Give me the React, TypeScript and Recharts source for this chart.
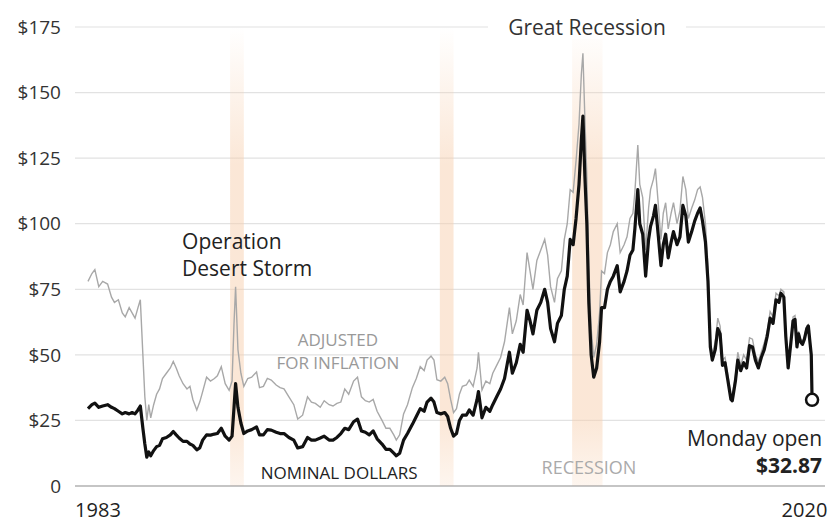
import React from "react";
import {
  LineChart,
  Line,
  XAxis,
  YAxis,
  CartesianGrid,
  ReferenceArea,
  ReferenceDot,
} from "recharts";

// decimal years, one line per calendar year
const dates = [
  1983.25, 1983.45, 1983.6, 1983.8,
  1984.0, 1984.25, 1984.45, 1984.6, 1984.8,
  1985.0, 1985.15, 1985.35, 1985.5, 1985.65, 1985.8, 1985.92,
  1986.05, 1986.15, 1986.25, 1986.35, 1986.45, 1986.6, 1986.75, 1986.9,
  1987.05, 1987.25, 1987.45, 1987.6, 1987.75, 1987.9,
  1988.1, 1988.3, 1988.45, 1988.6, 1988.8, 1988.95,
  1989.1, 1989.3, 1989.5, 1989.7, 1989.85,
  1990.05, 1990.25, 1990.45, 1990.6, 1990.7, 1990.78, 1990.9,
  1991.05, 1991.2, 1991.4, 1991.6, 1991.85,
  1992.0, 1992.2, 1992.4, 1992.6, 1992.85,
  1993.05, 1993.25, 1993.5, 1993.75, 1993.95,
  1994.2, 1994.45, 1994.65, 1994.85,
  1995.1, 1995.3, 1995.55, 1995.75, 1995.95,
  1996.15, 1996.35, 1996.55, 1996.8,
  1997.0, 1997.2, 1997.4, 1997.6, 1997.8,
  1998.0, 1998.25, 1998.45, 1998.65, 1998.85, 1998.98,
  1999.15, 1999.35, 1999.55, 1999.8,
  2000.0, 2000.2, 2000.4, 2000.55, 2000.75, 2000.9,
  2001.05, 2001.25, 2001.45, 2001.6, 2001.75, 2001.9,
  2002.05, 2002.2, 2002.35, 2002.55, 2002.7, 2002.9,
  2003.1, 2003.17, 2003.35, 2003.55, 2003.75, 2003.9,
  2004.1, 2004.3, 2004.5, 2004.75, 2004.9,
  2005.1, 2005.3, 2005.45, 2005.65, 2005.8, 2005.95,
  2006.15, 2006.35, 2006.55, 2006.7, 2006.85,
  2007.05, 2007.2, 2007.4, 2007.55, 2007.7, 2007.85,
  2008.0, 2008.15, 2008.3, 2008.42, 2008.5, 2008.6, 2008.7, 2008.8, 2008.92,
  2009.05, 2009.2, 2009.35, 2009.45, 2009.6, 2009.75, 2009.9,
  2010.05, 2010.25, 2010.4, 2010.6, 2010.75, 2010.9,
  2011.05, 2011.15, 2011.3, 2011.4, 2011.55, 2011.7, 2011.85, 2011.95,
  2012.1, 2012.2, 2012.35, 2012.48, 2012.6, 2012.72, 2012.85,
  2013.0, 2013.12, 2013.3, 2013.45, 2013.6, 2013.75, 2013.88,
  2014.05, 2014.2, 2014.35, 2014.48, 2014.6, 2014.75, 2014.88,
  2015.0, 2015.1, 2015.25, 2015.38, 2015.5, 2015.62, 2015.75, 2015.9,
  2016.05, 2016.12, 2016.28, 2016.4, 2016.55, 2016.7, 2016.85,
  2017.0, 2017.15, 2017.3, 2017.45, 2017.6, 2017.75, 2017.9,
  2018.05, 2018.2, 2018.35, 2018.5, 2018.6, 2018.75, 2018.85, 2018.97,
  2019.1, 2019.22, 2019.32, 2019.42, 2019.5, 2019.6, 2019.7, 2019.8, 2019.92,
  2020.0, 2020.08, 2020.15, 2020.19,
];

const nominal = [
  29.5, 31, 31.6, 30,
  30.5, 31, 30, 29.5, 28.5,
  27.5, 28, 27.5, 28, 27.5, 29, 30.5,
  22, 16, 11, 13, 11.5, 13.5, 15, 15.5,
  18, 18.5, 19.5, 20.8, 19.5, 18.3,
  17, 17, 16, 15.5, 13.8, 14.5,
  17.5, 19.5, 19.4, 19.8, 20,
  22, 19, 17.5, 19, 30, 39, 30,
  24, 20, 21, 21.5, 22.5,
  19.5, 19.5, 21.5, 21.3, 20.5,
  20, 20, 18.5, 17.5, 14.5,
  15, 18.5, 17.5, 17.5,
  18.3, 19, 17.5, 17.5, 18.5,
  20, 22, 21.5, 24.5,
  25.5, 21, 20.5, 19.5, 21,
  18, 16, 14, 14, 12.5, 11.5,
  12.5, 17.5, 20, 23.5,
  26.5, 29.5, 28.5, 32, 33.5, 32,
  28, 27.5, 28, 26.5, 22, 19,
  20, 25, 27, 27, 29, 27,
  33, 36, 26, 30, 28.5, 31,
  34, 37, 41, 51, 43,
  47, 54, 51, 67, 63, 58,
  67, 70, 75, 70, 60,
  55, 62, 65, 75, 80, 94,
  92, 102, 115, 132, 141, 118, 100, 70, 50,
  41.5, 45, 55, 68, 68, 75, 78,
  80, 84, 74, 78, 82, 88,
  90, 98, 113, 100, 96, 80, 94, 99,
  103, 107, 95, 84, 92, 96, 87,
  93, 97, 92, 95, 107, 103, 93,
  97, 101, 104, 106, 101, 93, 78,
  53, 48, 52, 60, 58, 46, 47, 40,
  33, 32.5, 40, 48, 44, 47, 45,
  53.5, 53, 48, 45, 49, 52, 57,
  64, 62, 71, 70, 73.5, 72, 57, 45,
  54, 63, 63.5, 53, 58, 55, 54, 56, 60,
  61, 55, 50, 32.87,
];

const adjusted = [
  78, 81, 82.5, 76,
  78, 77, 72, 70, 71,
  66, 64.5, 68, 66, 64, 68, 71,
  50, 34, 25, 31, 26, 31, 35, 37,
  41, 43, 45, 47.5, 45, 42,
  39, 37, 38, 33, 29, 32,
  36, 41.5, 40, 41, 42,
  45.5, 39, 36.5, 40, 62, 76, 52,
  43, 38, 41, 41.5, 43.5,
  37.5, 38, 41, 40.4, 38.5,
  37.5, 37, 34, 31, 25.5,
  27, 34, 32, 31.5,
  30, 32.5, 31, 30.5, 31.5,
  32, 37, 35, 40,
  41.5, 34, 32.5, 32, 33,
  28.5, 25, 22, 22, 19.5, 17.5,
  19.5, 27.5, 31, 37.5,
  41, 45.5, 44, 48, 49.5, 48,
  40.5, 40, 41.5, 39, 33, 28,
  29.5, 35, 38, 38.5, 40.4, 38,
  45, 51, 36.6, 40, 39, 43,
  46, 49, 55, 68, 58,
  63, 73, 69, 89, 82, 75,
  86, 90, 94, 88, 76,
  70, 79, 82, 94, 100, 113,
  112, 124, 138, 157, 165, 140, 118, 84, 60,
  49, 54, 66, 82, 81, 89, 92,
  97, 100, 89, 92, 95, 102,
  104, 112, 130, 115, 110, 90, 106, 113,
  117, 121, 107, 94, 104, 108, 98,
  104, 108, 100, 105, 118, 113, 102,
  106, 109, 113, 114, 110, 100, 84,
  56, 50, 55, 64, 61, 48, 49, 42,
  35, 34.5, 42, 51, 46, 50, 48,
  56.5, 56, 50, 47.5, 51, 54.5, 59,
  66.5, 64.5, 73.5, 72.5, 75, 74, 58.5, 46,
  55, 64.5, 65, 54, 59, 56, 55, 57, 61,
  61.5, 55.5, 50.5, 32.87,
];

const recessions = [
  [1990.5, 1991.2],
  [2001.2, 2001.9],
  [2007.95, 2009.5],
];

const yTicks = [0, 25, 50, 75, 100, 125, 150, 175];
const xTicks = [1983, 2020];

const data = dates.map((d, i) => ({ date: d, nominal: nominal[i], adjusted: adjusted[i] }));
const last = data[data.length - 1];

const FONT = "'Open Sans', sans-serif";

const Note = (props: any) => {
  const { viewBox, text, anchor = "middle", size = 17, color = "#333", weight = 400, bg = 0 } = props;
  const x = viewBox.x + (viewBox.width || 0) / 2;
  const y = viewBox.y + (viewBox.height || 0) / 2;
  return (
    <g>
      {bg > 0 && <rect x={x - bg / 2} y={y - 12} width={bg} height={24} fill="#fff" />}
      <text
        x={x}
        y={y}
        textAnchor={anchor}
        dominantBaseline="central"
        fontSize={size}
        fill={color}
        fontWeight={weight}
        fontFamily={FONT}
      >
        {text}
      </text>
    </g>
  );
};

const XTick = (props: any) => {
  const { x, y, payload } = props;
  const first = payload.value === xTicks[0];
  return (
    <text
      x={x}
      y={y}
      dx={first ? -8 : 19}
      dy={23}
      textAnchor={first ? "start" : "end"}
      dominantBaseline="central"
      fontSize={20}
      fill="#222"
      fontFamily={FONT}
    >
      {payload.value}
    </text>
  );
};

const notes = [
  { x: 2008.71, y: 175, text: "Great Recession", size: 21, bg: 198 },
  { x: 1988.05, y: 93.4, text: "Operation", size: 21, anchor: "start", color: "#222" },
  { x: 1988.05, y: 83.1, text: "Desert Storm", size: 21, anchor: "start", color: "#222" },
  { x: 1996.0, y: 56.0, text: "ADJUSTED", color: "#999" },
  { x: 1996.0, y: 46.9, text: "FOR INFLATION", color: "#999" },
  { x: 1996.06, y: 5.0, text: "NOMINAL DOLLARS", color: "#222" },
  { x: 2008.81, y: 7.2, text: "RECESSION", color: "#aaa", size: 18 },
  { x: 2020.7, y: 18.3, text: "Monday open", size: 21, anchor: "end", color: "#222" },
  { x: 2020.7, y: 8.0, text: "$32.87", size: 21, anchor: "end", color: "#222", weight: 700 },
];

export default function App() {
  return (
    <div style={{ position: "absolute", left: 0, top: 0, background: "#fff" }}>
      <LineChart
        width={834}
        height={523}
        data={data}
        margin={{ top: 27, right: 9, bottom: 0, left: 15 }}
        style={{ fontFamily: FONT }}
      >
        <defs>
          <linearGradient id="band" x1="0" y1="0" x2="0" y2="1">
            <stop offset="0%" stopColor="#f7cfae" stopOpacity={0} />
            <stop offset="30%" stopColor="#f7cfae" stopOpacity={0.5} />
            <stop offset="85%" stopColor="#f7cfae" stopOpacity={0.5} />
            <stop offset="100%" stopColor="#f7cfae" stopOpacity={0.2} />
          </linearGradient>
        </defs>
        <CartesianGrid vertical={false} stroke="#e2e2e2" strokeWidth={1.2} />
        <XAxis
          dataKey="date"
          type="number"
          domain={[1982.587, 2020.85]}
          ticks={xTicks}
          tick={<XTick />}
          tickLine={false}
          tickSize={0}
          tickMargin={0}
          height={37}
          axisLine={{ stroke: "#9a9a9a", strokeWidth: 1.2 }}
          allowDataOverflow
        />
        <YAxis
          domain={[0, 175]}
          ticks={yTicks}
          width={60}
          axisLine={false}
          tickLine={false}
          tickSize={0}
          tickMargin={14}
          tick={{ fill: "#333", fontSize: 19, fontFamily: FONT }}
          tickFormatter={(v: number) => (v === 0 ? "0" : `$${v}`)}
        />
        {recessions.map(([a, b], i) => (
          <ReferenceArea key={i} x1={a} x2={b} y1={0} y2={175} fill="url(#band)" fillOpacity={1} stroke="none" />
        ))}
        <Line
          dataKey="adjusted"
          type="linear"
          stroke="#a8a8a8"
          strokeWidth={1.4}
          dot={false}
          isAnimationActive={false}
        />
        <Line
          dataKey="nominal"
          type="linear"
          stroke="#111"
          strokeWidth={3.2}
          strokeLinejoin="round"
          dot={false}
          isAnimationActive={false}
        />
        <ReferenceDot
          x={last.date}
          y={last.nominal}
          r={6}
          fill="#fff"
          stroke="#111"
          strokeWidth={2.5}
        />
        {notes.map((n, i) => (
          <ReferenceDot
            key={"n" + i}
            x={n.x}
            y={n.y}
            r={1}
            fill="none"
            stroke="none"
            label={<Note {...n} />}
          />
        ))}
      </LineChart>
    </div>
  );
}
